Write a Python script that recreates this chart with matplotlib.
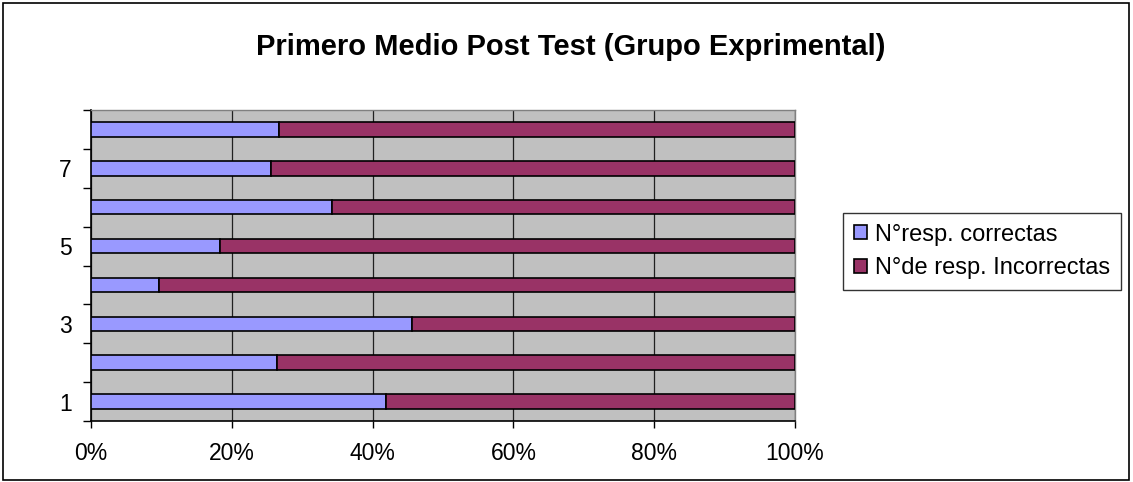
import numpy as np
import matplotlib
matplotlib.use('Agg')
import matplotlib.pyplot as plt
from matplotlib.ticker import FixedLocator, PercentFormatter

plt.rcParams['font.family'] = ['Liberation Sans', 'DejaVu Sans']

# data (share of correct answers, in %)
categories = [1, 2, 3, 4, 5, 6, 7, 8]
correctas = [41.9, 26.4, 45.6, 9.7, 18.3, 34.3, 25.6, 26.7]
incorrectas = [100 - v for v in correctas]
ytick_labels = ['1', '3', '5', '7']
xticks = [0, 20, 40, 60, 80, 100]

fig = plt.figure(figsize=(11.33, 4.82), dpi=100)
ax = fig.add_axes([91 / 1133, 1 - 421 / 482, 704 / 1133, 311 / 482])
ax.set_facecolor('#C0C0C0')

# figure border
fig.add_artist(plt.Rectangle((3 / 1133, 2 / 482), 1126 / 1133, 477 / 482,
                             transform=fig.transFigure, fill=False,
                             edgecolor='black', linewidth=1.2))

ax.barh(categories, correctas, height=0.37, color='#9999FF',
        edgecolor='black', linewidth=1.2, label='N°resp. correctas', zorder=3)
ax.barh(categories, incorrectas, left=correctas, height=0.37, color='#993366',
        edgecolor='black', linewidth=1.2, label='N°de resp. Incorrectas', zorder=3)

ax.set_xlim(0, 100)
ax.set_ylim(0.5, 8.5)
ax.set_xticks(xticks)
ax.xaxis.set_major_formatter(PercentFormatter(decimals=0))
ax.xaxis.grid(True, color='#202020', linewidth=0.9, zorder=1)

ax.set_yticks([1, 3, 5, 7])
ax.set_yticklabels(ytick_labels)
ax.yaxis.set_minor_locator(FixedLocator(np.arange(0.5, 9.0, 1.0)))
ax.tick_params(axis='y', which='major', length=0, pad=14, labelsize=16.5)
ax.tick_params(axis='y', which='minor', length=6, width=1, direction='out')
ax.tick_params(axis='x', which='major', length=5, width=1, direction='out',
               pad=10, labelsize=16.5)

for side in ['left', 'bottom']:
    ax.spines[side].set_color('black')
    ax.spines[side].set_linewidth(1.2)
for side in ['top', 'right']:
    ax.spines[side].set_color('#808080')
    ax.spines[side].set_linewidth(1)

fig.text(571 / 1133, 1 - 47 / 482, 'Primero Medio Post Test (Grupo Exprimental)',
         ha='center', va='center', fontsize=21, fontweight='bold')

leg = fig.legend(loc='upper left', bbox_to_anchor=(843 / 1133, 1 - 213 / 482),
                 frameon=True, fancybox=False, edgecolor='black', fontsize=17,
                 handlelength=0.55, handleheight=0.55, handletextpad=0.35,
                 borderpad=0.45, labelspacing=0.5, borderaxespad=0)
leg.get_frame().set_linewidth(1)

fig.savefig('out.png', dpi=100)
